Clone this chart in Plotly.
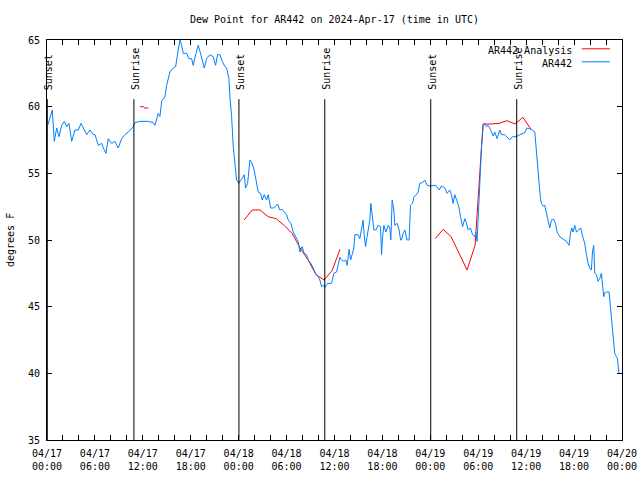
import pandas as pd
import plotly.graph_objects as go

START = pd.Timestamp("2024-04-17 00:00")
END = pd.Timestamp("2024-04-20 00:00")

# Observed dew point (hours after 04/17 00:00 UTC, degrees F)
blue_hours = [
    0.09, 0.66, 0.91, 1.21, 1.50, 1.84, 2.17, 2.47, 2.75, 3.09, 3.50, 3.92, 4.26, 4.67, 4.97,
    5.38, 5.79, 6.01, 6.42, 6.85, 7.05, 7.38, 7.67, 8.10, 8.51, 8.92, 9.35, 9.76, 10.18, 10.80,
    11.01, 11.64, 12.68, 13.30, 13.52, 13.93, 14.14, 14.36, 14.77, 14.98, 15.39, 15.81, 16.11,
    16.36, 16.65, 16.86, 17.06, 17.48, 17.77, 18.11, 18.31, 18.61, 18.94, 19.27, 19.69, 19.99,
    20.40, 20.81, 21.11, 21.36, 21.65, 21.94, 22.28, 22.49, 22.78, 22.90, 23.12, 23.32, 23.53,
    23.74, 24.03, 24.24, 24.44, 24.69, 24.87, 25.12, 25.41, 25.69, 25.94, 26.25, 26.45, 26.75,
    26.95, 27.20, 27.50, 27.70, 28.00, 28.32, 28.62, 28.87, 29.16, 29.45, 29.79, 30.00, 30.20,
    30.54, 30.83, 31.13, 31.45, 31.66, 31.95, 32.20, 32.50, 32.70, 33.04, 33.33, 33.63, 33.95,
    34.17, 34.38, 34.58, 34.79, 35.13, 35.63, 35.92, 36.26, 36.46, 36.67, 36.88, 37.17, 37.42,
    37.58, 37.83, 38.01, 38.21, 38.42, 38.55, 38.96, 39.17, 39.39, 39.59, 39.71, 39.89, 40.01,
    40.21, 40.43, 40.55, 40.76, 40.93, 41.18, 41.46, 41.76, 41.89, 42.02, 42.18, 42.43, 42.72,
    42.93, 43.05, 43.22, 43.43, 43.55, 43.84, 44.09, 44.27, 44.39, 44.59, 44.81, 45.09, 45.34,
    45.52, 45.77, 45.97, 46.27, 46.47, 46.68, 47.02, 47.31, 47.60, 47.93, 48.35, 48.69, 49.10,
    49.40, 49.81, 50.10, 50.44, 50.65, 50.85, 51.06, 51.35, 51.60, 51.78, 52.03, 52.32, 52.53,
    52.73, 53.03, 53.28, 53.57, 53.69, 53.85, 53.98, 54.19, 54.41, 54.61, 54.82, 55.03, 55.23,
    55.44, 55.66, 55.86, 56.07, 56.36, 56.70, 56.91, 57.32, 57.61, 57.95, 58.29, 58.79, 59.20,
    59.82, 60.11, 60.66, 61.08, 61.20, 61.36, 61.49, 61.61, 61.79, 61.91, 62.12, 62.33, 62.54,
    62.74, 62.95, 63.17, 63.45, 63.67, 63.87, 64.21, 64.62, 65.04, 65.37, 65.54, 65.71, 65.87,
    66.08, 66.30, 66.58, 66.83, 67.05, 67.33, 67.55, 67.75, 67.96, 68.17, 68.30, 68.46, 68.59,
    68.80, 69.00, 69.21, 69.42, 69.55, 69.71, 69.84, 70.05, 70.38, 70.55, 70.75, 70.88, 71.09,
    71.30, 71.43, 71.59, 71.71,
]
blue_values = [
    58.6, 59.75, 57.4, 58.4, 57.75, 58.6, 58.9, 58.5, 58.75, 57.4, 58.25, 58.25, 58.75, 58.25, 57.9,
    58.25, 57.9, 57.9, 57.1, 57.25, 56.9, 56.5, 57.6, 57.25, 57.4, 56.9, 57.6, 57.9, 58.1, 58.5,
    58.8, 58.9, 58.9, 58.8, 58.6, 59.5, 59.25, 60.4, 60.75, 61.6, 62.6, 62.9, 63.0,
    64.0, 65.0, 64.6, 64.0, 64.0, 63.6, 63.6, 63.1, 63.9, 64.6, 63.9, 62.9, 63.6,
    63.9, 63.75, 63.1, 63.9, 63.9, 63.4, 63.0, 62.9, 62.1, 60.8, 59.25, 57.0, 55.6,
    54.5, 54.25, 54.5, 54.6, 54.9, 53.9, 54.25, 56.0, 55.75, 55.25, 54.25, 53.6, 53.5,
    53.0, 53.4, 53.0, 53.4, 52.4, 52.4, 52.5, 52.7, 52.25, 52.3, 52.0, 51.9, 51.5,
    51.25, 50.6, 50.25, 49.9, 49.1, 49.5, 49.0, 48.9, 48.5, 48.25, 47.9, 47.5, 47.25,
    47.0, 46.5, 46.6, 46.45, 46.75, 46.75, 47.5, 47.6, 48.1, 48.7, 48.5, 48.4, 48.5,
    48.1, 49.3, 48.5, 48.9, 49.4, 50.4, 50.4, 50.1, 50.9, 51.5, 50.4, 49.5, 50.0,
    50.6, 51.5, 52.75, 51.75, 50.75, 50.75, 51.1, 51.0, 48.9, 50.25, 51.1, 50.6, 51.1,
    50.9, 50.0, 53.0, 52.25, 51.1, 51.25, 50.75, 50.0, 50.0, 50.5, 50.75, 50.0, 50.0,
    52.6, 52.75, 53.25, 53.4, 53.6, 54.25, 54.3, 54.5, 54.1, 54.05, 54.05, 54.1, 53.75,
    54.05, 53.9, 53.5, 53.75, 53.4, 52.75, 53.4, 52.9, 52.4, 51.75, 51.0, 51.6, 51.25,
    50.75, 50.9, 50.4, 50.25, 50.6, 49.9, 51.5, 54.75, 57.0, 58.5, 58.75, 58.5, 58.6,
    58.4, 58.1, 57.8, 58.1, 57.6, 58.25, 57.9, 57.9, 57.75, 57.5, 57.75, 57.75, 57.9,
    58.05, 58.4, 58.3, 58.1, 57.25, 55.9, 54.75, 53.9, 53.1, 52.75, 52.55, 52.6, 52.0,
    51.5, 50.9, 51.5, 51.55, 51.25, 50.6, 50.25, 50.05, 49.9, 49.6, 50.5, 50.9, 50.6,
    51.1, 50.6, 50.75, 50.9, 50.3, 49.75, 48.9, 48.25, 47.9, 47.75, 49.1, 49.6, 47.5,
    47.4, 46.9, 47.1, 47.5, 46.6, 45.75, 46.05, 46.1, 46.1, 45.0, 44.0, 43.0, 41.5,
    41.25, 41.1, 40.1, 40.0,
]

# Analysis (None marks gaps between segments)
red_hours = [
    11.64, 12.05, 12.25, 12.68, 12.9,
    24.69, 25.69, 26.69, 27.69, 28.69, 29.69, 30.69, 31.69, 32.69, 33.69, 34.69, 35.69, 36.69, 37.0,
    48.6, 49.6, 50.6, 51.6, 52.6, 53.6, 54.6, 55.6, 56.6, 57.6, 58.6, 59.6, 60.6,
]
red_values = [
    60.0, 60.0, 59.9, 59.9, None,
    51.5, 52.25, 52.25, 51.75, 51.6, 51.1, 50.5, 49.4, 48.5, 47.4, 47.0, 47.7, 49.3, None,
    50.1, 50.8, 50.25, 49.0, 47.75, 49.6, 58.7, 58.7, 58.75, 58.95, 58.7, 59.2, 58.3,
]

sun_labels = ["Sunset", "Sunrise", "Sunset", "Sunrise", "Sunset", "Sunrise"]
sun_times = ["2024-04-17 00:02", "2024-04-17 10:53", "2024-04-18 00:02",
             "2024-04-18 10:47", "2024-04-19 00:03", "2024-04-19 10:49"]

title_text = "Dew Point for AR442 on 2024-Apr-17 (time in UTC)"
y_title = "degrees F"
series_names = ["AR442 Analysis", "AR442"]
colors = ["#ff0000", "#0080ff"]

FONT = "DejaVu Sans Mono"


def to_time(hours):
    return [START + pd.Timedelta(hours=h) for h in hours]


fig = go.Figure()
fig.add_trace(go.Scatter(x=to_time(red_hours), y=red_values, mode="lines",
                         line=dict(color=colors[0], width=1), connectgaps=False,
                         name=series_names[0], showlegend=False))
fig.add_trace(go.Scatter(x=to_time(blue_hours), y=blue_values, mode="lines",
                         line=dict(color=colors[1], width=1),
                         name=series_names[1], showlegend=False))

for lab, t in zip(sun_labels, sun_times):
    fig.add_shape(type="line", xref="x", yref="y", x0=t, x1=t, y0=35, y1=60.57,
                  line=dict(color="black", width=1))
    fig.add_annotation(x=t, y=61.1, xref="x", yref="y", text=lab, textangle=-90,
                       showarrow=False, xanchor="center", yanchor="bottom", xshift=1,
                       font=dict(family=FONT, size=10, color="black"))

# manual legend (text left, sample line right)
for i, (nm, c) in enumerate(zip(series_names, colors)):
    yp = 0.975 - i * 0.0325
    fig.add_annotation(x=0.9165, y=yp, xref="paper", yref="paper", text=nm,
                       showarrow=False, xanchor="right", yanchor="middle",
                       font=dict(family=FONT, size=10, color="black"))
    fig.add_shape(type="line", xref="paper", yref="paper", x0=0.930, x1=0.979,
                  y0=yp + 0.003, y1=yp + 0.003, line=dict(color=c, width=1))

fig.add_annotation(x=-0.0643, y=0.5, xref="paper", yref="paper", text=y_title,
                   textangle=-90, showarrow=False, xanchor="center", yanchor="middle",
                   font=dict(family=FONT, size=10, color="black"))

tick_times = pd.date_range(START, END, freq="6h")
tick_text = [t.strftime("%m/%d") + "<br>" + t.strftime("%H:%M") for t in tick_times]

fig.update_layout(
    width=640, height=480,
    margin=dict(l=47, r=18, t=40, b=40, autoexpand=False),
    paper_bgcolor="white", plot_bgcolor="white",
    font=dict(family=FONT, size=10, color="black"),
    title=dict(text=title_text, x=0.5, xref="paper", y=1 - 19 / 480, yanchor="middle",
               font=dict(family=FONT, size=10, color="black")),
    showlegend=False,
)
fig.update_xaxes(
    range=[START, END], showgrid=False, zeroline=False,
    showline=True, linecolor="black", linewidth=1, mirror="ticks",
    tickmode="array", tickvals=tick_times, ticktext=tick_text,
    ticks="inside", ticklen=5, tickcolor="black", ticklabelstandoff=4,
    minor=dict(tickmode="linear", tick0=START, dtick=2 * 3600 * 1000,
               ticks="inside", ticklen=5, tickcolor="black", showgrid=False),
)
fig.update_yaxes(
    range=[35, 65], showgrid=False, zeroline=False,
    showline=True, linecolor="black", linewidth=1, mirror="ticks",
    tickmode="linear", tick0=35, dtick=5,
    ticks="inside", ticklen=5, tickcolor="black", ticklabelstandoff=4,
)

fig.write_html("out.html", config={"displayModeBar": False},
               post_script="document.body.style.margin='0';document.body.style.padding='0';")
